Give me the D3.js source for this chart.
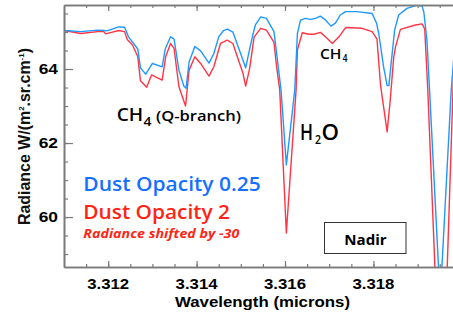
<!DOCTYPE html>
<html>
<head>
<meta charset="utf-8">
<style>
  body { margin: 0; background: #fff; }
  svg { display: block; }
</style>
<script src="https://cdn.jsdelivr.net/npm/d3@7"></script>
</head>
<body>
<script>
// values
var blueWl = [3.31100, 3.31138, 3.31176, 3.31190, 3.31197, 3.31224, 3.31237, 3.31246, 3.31267, 3.31273,
  3.31285, 3.31300, 3.31322, 3.31329, 3.31341, 3.31349, 3.31360, 3.31371, 3.31376, 3.31383,
  3.31396, 3.31409, 3.31428, 3.31439, 3.31450, 3.31461, 3.31470, 3.31482, 3.31505, 3.31511,
  3.31518, 3.31527, 3.31533, 3.31545, 3.31558, 3.31575, 3.31582, 3.31591, 3.31603, 3.31622,
  3.31628, 3.31635, 3.31646, 3.31658, 3.31669, 3.31680, 3.31692, 3.31704, 3.31714, 3.31725,
  3.31737, 3.31763, 3.31797, 3.31807, 3.31812, 3.31823, 3.31831, 3.31835, 3.31842, 3.31848,
  3.31857, 3.31876, 3.31899, 3.31910, 3.31914, 3.31921, 3.31927, 3.31951, 3.31976, 3.31985];
var blueRad = [65.04, 65.01, 65.05, 65.04, 65.03, 65.14, 65.13, 64.87, 64.54, 64.03,
  63.86, 64.15, 64.06, 64.54, 64.87, 64.81, 63.97, 63.54, 63.48, 64.19,
  64.61, 64.49, 64.16, 64.42, 64.87, 65.04, 65.08, 65.00, 64.24, 64.03,
  64.43, 64.92, 65.19, 65.41, 65.37, 65.01, 64.33, 63.43, 61.41, 63.43,
  64.96, 65.32, 65.37, 65.34, 65.37, 65.43, 65.32, 65.16, 65.24, 65.46,
  65.55, 65.55, 65.50, 65.24, 64.96, 64.06, 63.55, 63.55, 64.38, 65.05,
  65.46, 65.64, 65.73, 65.70, 65.54, 64.78, 63.43, 57.76, 63.43, 64.78];

var redWl = [3.31100, 3.31138, 3.31176, 3.31190, 3.31194, 3.31224, 3.31237, 3.31243, 3.31255, 3.31267,
  3.31273, 3.31287, 3.31298, 3.31322, 3.31330, 3.31341, 3.31349, 3.31360, 3.31375, 3.31383,
  3.31396, 3.31409, 3.31428, 3.31439, 3.31454, 3.31469, 3.31482, 3.31505, 3.31511, 3.31520,
  3.31530, 3.31545, 3.31558, 3.31575, 3.31581, 3.31588, 3.31603, 3.31625, 3.31628, 3.31639,
  3.31654, 3.31665, 3.31680, 3.31695, 3.31707, 3.31722, 3.31737, 3.31774, 3.31797, 3.31808,
  3.31816, 3.31831, 3.31838, 3.31846, 3.31850, 3.31861, 3.31895, 3.31910, 3.31916, 3.31923,
  3.31953, 3.31967, 3.31980, 3.31985];
var redRad = [65.04, 64.96, 65.01, 65.01, 64.95, 65.04, 65.01, 64.80, 64.65, 64.33,
  63.68, 63.51, 63.84, 63.70, 64.33, 64.69, 64.56, 63.52, 63.00, 63.97,
  64.33, 64.15, 63.81, 64.06, 64.69, 64.78, 64.69, 63.88, 63.54, 64.02,
  64.86, 65.10, 65.05, 64.72, 64.06, 63.43, 59.57, 63.43, 64.51, 64.98,
  64.94, 64.94, 64.99, 64.83, 64.69, 64.87, 65.12, 65.10, 65.01, 64.81,
  63.57, 62.30, 63.16, 64.33, 64.60, 65.07, 65.19, 65.22, 65.08, 63.43,
  54.51, 58.66, 63.43, 65.05];

var xMajor = [3.312, 3.314, 3.316, 3.318];
var yMajor = [60, 62, 64];
var xMinor = d3.range(3.3115, 3.3197, 0.0005);
var yMinor = d3.range(59, 65.6, 0.5);

var W = 453, H = 315;
var L = 64, R = 453, T = 5, B = 267;
var blueLine = "#1f98ff", redLine = "#ff3445";
var blueText = "#1670ff", redText = "#ff2414";
var axisCol = "#7a7a7a";

var svg = d3.select("body").append("svg")
  .attr("width", W)
  .attr("height", H);

var x = d3.scaleLinear().domain([3.311, 3.3198]).range([L, R]);
var y = d3.scaleLinear().domain([58.65, 65.73]).range([B, T]);

svg.append("clipPath").attr("id", "plot")
  .append("rect").attr("x", L).attr("y", T).attr("width", R - L).attr("height", B - T);

// curves
var line = d3.line()
  .x(function(d) { return x(d[0]); })
  .y(function(d) { return y(d[1]); });

svg.append("path")
  .datum(d3.zip(redWl, redRad))
  .attr("clip-path", "url(#plot)")
  .attr("fill", "none")
  .attr("stroke", redLine)
  .attr("stroke-width", 1.4)
  .attr("stroke-linejoin", "round")
  .attr("d", line);

svg.append("path")
  .datum(d3.zip(blueWl, blueRad))
  .attr("clip-path", "url(#plot)")
  .attr("fill", "none")
  .attr("stroke", blueLine)
  .attr("stroke-width", 1.4)
  .attr("stroke-linejoin", "round")
  .attr("d", line);

// axes, ticks pointing inward
function styleAxis(g) {
  g.selectAll("path").attr("stroke", axisCol).attr("stroke-width", 1.6);
  g.selectAll("line").attr("stroke", axisCol).attr("stroke-width", 1.2);
  g.selectAll("text").remove();
}

svg.append("g").attr("transform", "translate(0," + B + ")")
  .call(d3.axisBottom(x).tickValues(xMinor).tickSize(-3).tickSizeOuter(0))
  .call(styleAxis);
svg.append("g").attr("transform", "translate(0," + B + ")")
  .call(d3.axisBottom(x).tickValues(xMajor).tickSize(-6).tickSizeOuter(0))
  .call(styleAxis);
svg.append("g").attr("transform", "translate(0," + T + ")")
  .call(d3.axisTop(x).tickValues(xMinor).tickSize(-3).tickSizeOuter(0))
  .call(styleAxis);
svg.append("g").attr("transform", "translate(0," + T + ")")
  .call(d3.axisTop(x).tickValues(xMajor).tickSize(-6).tickSizeOuter(0))
  .call(styleAxis);
svg.append("g").attr("transform", "translate(" + L + ",0)")
  .call(d3.axisLeft(y).tickValues(yMinor).tickSize(-4).tickSizeOuter(0))
  .call(styleAxis);
svg.append("g").attr("transform", "translate(" + L + ",0)")
  .call(d3.axisLeft(y).tickValues(yMajor).tickSize(-9).tickSizeOuter(0))
  .call(styleAxis);

// text helper: len stretches the glyphs to the measured width
function label(px, py, str, size, opts) {
  opts = opts || {};
  var t = svg.append("text")
    .attr("x", px).attr("y", py)
    .attr("font-family", opts.family || "'Open Sans', sans-serif")
    .attr("font-size", size)
    .attr("font-weight", opts.weight || 600)
    .attr("fill", opts.fill || "#000")
    .text(str);
  if (opts.italic) t.attr("font-style", "italic");
  if (opts.len) t.attr("textLength", opts.len).attr("lengthAdjust", "spacingAndGlyphs");
  return t;
}
var arial = "'Liberation Sans', Arial, sans-serif";

xMajor.forEach(function(v) {
  label(x(v) - 21, 288.5, d3.format(".3f")(v), 14.5, { family: arial, weight: 700, len: 42 });
});
yMajor.forEach(function(v) {
  label(38.7, y(v) + 5.2, String(v), 14.5, { family: arial, weight: 700, len: 19.3 });
});

label(175, 306.5, "Wavelength (microns)", 15, { family: arial, weight: 700, len: 175 });

var yl = svg.append("text")
  .attr("transform", "translate(30,225) rotate(-90)")
  .attr("font-family", arial)
  .attr("font-size", 16)
  .attr("font-weight", 700)
  .attr("fill", "#111")
  .attr("textLength", 177)
  .attr("lengthAdjust", "spacingAndGlyphs");
yl.append("tspan").text("Radiance W/(m");
yl.append("tspan").attr("font-size", 8).attr("dy", -6).text("2");
yl.append("tspan").attr("dy", 6).text(".sr.cm");
yl.append("tspan").attr("font-size", 8).attr("dy", -6).text("-1");
yl.append("tspan").attr("dy", 6).text(")");

// annotations
label(116.7, 120.5, "CH", 18, { len: 26.5 });
label(143.5, 126, "4", 12, { len: 8 });
label(156, 120.5, "(Q-branch)", 13.5, { len: 85 });

label(300, 140, "H", 21, { len: 13 });
label(315, 143.5, "2", 12, { len: 6 });
label(321.5, 140, "O", 21, { len: 17.5 });

label(320, 58.5, "CH", 14.5, { len: 21.5 });
label(342.5, 62, "4", 10, { len: 5 });

label(83.3, 191, "Dust Opacity 0.25", 20, { fill: blueText, len: 177.4 });
label(83.3, 219, "Dust Opacity 2", 20, { fill: redText, len: 146.7 });
label(83.3, 238.3, "Radiance shifted by -30", 12.5, { fill: redText, italic: true, weight: 700, len: 156 });

svg.append("rect")
  .attr("x", 324.5).attr("y", 222.5)
  .attr("width", 81.5).attr("height", 31)
  .attr("fill", "#fff")
  .attr("stroke", "#333")
  .attr("stroke-width", 1);
label(344.3, 245, "Nadir", 15, { weight: 700, len: 42.4 });
</script>
</body>
</html>
